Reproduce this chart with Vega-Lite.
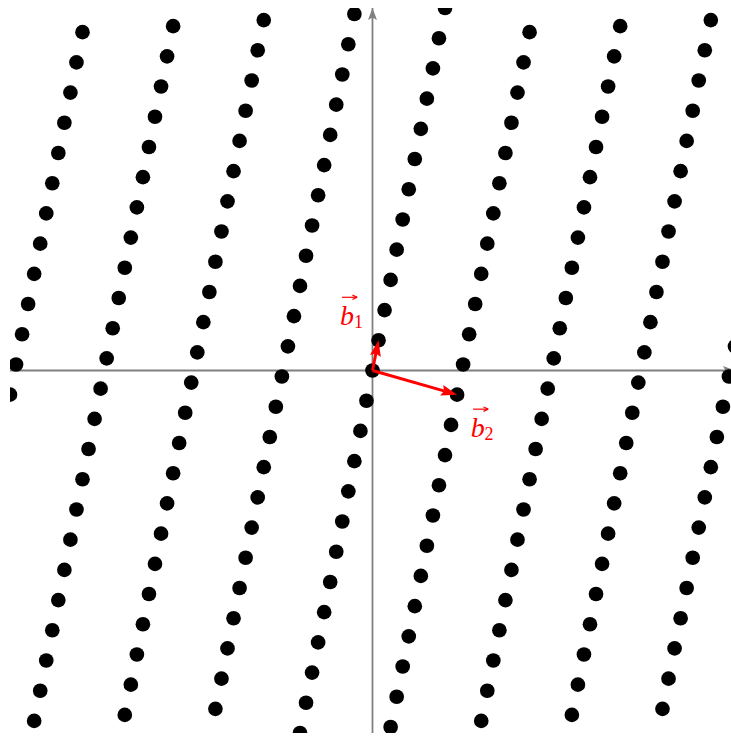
{
  "$schema": "https://vega.github.io/schema/vega-lite/v6.json",
  "width": 721,
  "height": 725,
  "autosize": "none",
  "padding": {"left": 10, "top": 8, "right": 0, "bottom": 3},
  "background": "white",
  "config": {"view": {"stroke": null}, "axis": {"disable": true}},
  "datasets": {
    "lattice": [
      {"x":-2.4,"y":-12},{"x":-2.2,"y":-11},{"x":-2,"y":-10},{"x":-1.8,"y":-9},{"x":-1.6,"y":-8},{"x":-1.4,"y":-7},{"x":-1.2,"y":-6},{"x":-1,"y":-5},{"x":-0.8,"y":-4},{"x":-0.6,"y":-3},{"x":-0.4,"y":-2},{"x":-0.2,"y":-1},{"x":0,"y":0},{"x":0.2,"y":1},{"x":0.4,"y":2},{"x":0.6,"y":3},{"x":0.8,"y":4},{"x":1,"y":5},{"x":1.2,"y":6},{"x":1.4,"y":7},{"x":1.6,"y":8},{"x":1.8,"y":9},{"x":2,"y":10},{"x":2.2,"y":11},{"x":2.4,"y":12},
      {"x":0.6,"y":-11.8},{"x":0.8,"y":-10.8},{"x":1,"y":-9.8},{"x":1.2,"y":-8.8},{"x":1.4,"y":-7.8},{"x":1.6,"y":-6.8},{"x":1.8,"y":-5.8},{"x":2,"y":-4.8},{"x":2.2,"y":-3.8},{"x":2.4,"y":-2.8},{"x":2.6,"y":-1.8},{"x":2.8,"y":-0.8},{"x":3,"y":0.2},{"x":3.2,"y":1.2},{"x":3.4,"y":2.2},{"x":3.6,"y":3.2},{"x":3.8,"y":4.2},{"x":4,"y":5.2},{"x":4.2,"y":6.2},{"x":4.4,"y":7.2},{"x":4.6,"y":8.2},{"x":4.8,"y":9.2},{"x":5,"y":10.2},{"x":5.2,"y":11.2},
      {"x":3.6,"y":-11.6},{"x":3.8,"y":-10.6},{"x":4,"y":-9.6},{"x":4.2,"y":-8.6},{"x":4.4,"y":-7.6},{"x":4.6,"y":-6.6},{"x":4.8,"y":-5.6},{"x":5,"y":-4.6},{"x":5.2,"y":-3.6},{"x":5.4,"y":-2.6},{"x":5.6,"y":-1.6},{"x":5.8,"y":-0.6},{"x":6,"y":0.4},{"x":6.2,"y":1.4},{"x":6.4,"y":2.4},{"x":6.6,"y":3.4},{"x":6.8,"y":4.4},{"x":7,"y":5.4},{"x":7.2,"y":6.4},{"x":7.4,"y":7.4},{"x":7.6,"y":8.4},{"x":7.8,"y":9.4},{"x":8,"y":10.4},{"x":8.2,"y":11.4},
      {"x":6.6,"y":-11.4},{"x":6.8,"y":-10.4},{"x":7,"y":-9.4},{"x":7.2,"y":-8.4},{"x":7.4,"y":-7.4},{"x":7.6,"y":-6.4},{"x":7.8,"y":-5.4},{"x":8,"y":-4.4},{"x":8.2,"y":-3.4},{"x":8.4,"y":-2.4},{"x":8.6,"y":-1.4},{"x":8.8,"y":-0.4},{"x":9,"y":0.6},{"x":9.2,"y":1.6},{"x":9.4,"y":2.6},{"x":9.6,"y":3.6},{"x":9.8,"y":4.6},{"x":10,"y":5.6},{"x":10.2,"y":6.6},{"x":10.4,"y":7.6},{"x":10.6,"y":8.6},{"x":10.8,"y":9.6},{"x":11,"y":10.6},{"x":11.2,"y":11.6},
      {"x":9.6,"y":-11.2},{"x":9.8,"y":-10.2},{"x":10,"y":-9.2},{"x":10.2,"y":-8.2},{"x":10.4,"y":-7.2},{"x":10.6,"y":-6.2},{"x":10.8,"y":-5.2},{"x":11,"y":-4.2},{"x":11.2,"y":-3.2},{"x":11.4,"y":-2.2},{"x":11.6,"y":-1.2},{"x":11.8,"y":-0.2},{"x":12,"y":0.8},
      {"x":-5.2,"y":-11.2},{"x":-5,"y":-10.2},{"x":-4.8,"y":-9.2},{"x":-4.6,"y":-8.2},{"x":-4.4,"y":-7.2},{"x":-4.2,"y":-6.2},{"x":-4,"y":-5.2},{"x":-3.8,"y":-4.2},{"x":-3.6,"y":-3.2},{"x":-3.4,"y":-2.2},{"x":-3.2,"y":-1.2},{"x":-3,"y":-0.2},{"x":-2.8,"y":0.8},{"x":-2.6,"y":1.8},{"x":-2.4,"y":2.8},{"x":-2.2,"y":3.8},{"x":-2,"y":4.8},{"x":-1.8,"y":5.8},{"x":-1.6,"y":6.8},{"x":-1.4,"y":7.8},{"x":-1.2,"y":8.8},{"x":-1,"y":9.8},{"x":-0.8,"y":10.8},{"x":-0.6,"y":11.8},
      {"x":-8.2,"y":-11.4},{"x":-8,"y":-10.4},{"x":-7.8,"y":-9.4},{"x":-7.6,"y":-8.4},{"x":-7.4,"y":-7.4},{"x":-7.2,"y":-6.4},{"x":-7,"y":-5.4},{"x":-6.8,"y":-4.4},{"x":-6.6,"y":-3.4},{"x":-6.4,"y":-2.4},{"x":-6.2,"y":-1.4},{"x":-6,"y":-0.4},{"x":-5.8,"y":0.6},{"x":-5.6,"y":1.6},{"x":-5.4,"y":2.6},{"x":-5.2,"y":3.6},{"x":-5,"y":4.6},{"x":-4.8,"y":5.6},{"x":-4.6,"y":6.6},{"x":-4.4,"y":7.6},{"x":-4.2,"y":8.6},{"x":-4,"y":9.6},{"x":-3.8,"y":10.6},{"x":-3.6,"y":11.6},
      {"x":-11.2,"y":-11.6},{"x":-11,"y":-10.6},{"x":-10.8,"y":-9.6},{"x":-10.6,"y":-8.6},{"x":-10.4,"y":-7.6},{"x":-10.2,"y":-6.6},{"x":-10,"y":-5.6},{"x":-9.8,"y":-4.6},{"x":-9.6,"y":-3.6},{"x":-9.4,"y":-2.6},{"x":-9.2,"y":-1.6},{"x":-9,"y":-0.6},{"x":-8.8,"y":0.4},{"x":-8.6,"y":1.4},{"x":-8.4,"y":2.4},{"x":-8.2,"y":3.4},{"x":-8,"y":4.4},{"x":-7.8,"y":5.4},{"x":-7.6,"y":6.4},{"x":-7.4,"y":7.4},{"x":-7.2,"y":8.4},{"x":-7,"y":9.4},{"x":-6.8,"y":10.4},{"x":-6.6,"y":11.4},
      {"x":-12,"y":-0.8},{"x":-11.8,"y":0.2},{"x":-11.6,"y":1.2},{"x":-11.4,"y":2.2},{"x":-11.2,"y":3.2},{"x":-11,"y":4.2},{"x":-10.8,"y":5.2},{"x":-10.6,"y":6.2},{"x":-10.4,"y":7.2},{"x":-10.2,"y":8.2},{"x":-10,"y":9.2},{"x":-9.8,"y":10.2},{"x":-9.6,"y":11.2}
    ],
    "axes": [
      {"axis":"x","x":-12,"y":0,"x2":12,"y2":0},
      {"axis":"y","x":0,"y":-12,"x2":0,"y2":12}
    ],
    "vectors": [
      {"v":"b1","x":0.2,"y":1,"sub":"1"},
      {"v":"b2","x":2.8,"y":-0.8,"sub":"2"}
    ]
  },
  "encoding": {
    "x": {"field":"x","type":"quantitative","scale":{"domain":[-12,11.868],"nice":false,"zero":false},"axis":null},
    "y": {"field":"y","type":"quantitative","scale":{"domain":[-12,12],"nice":false,"zero":false},"axis":null}
  },
  "layer": [
    {
      "data": {"name":"axes"},
      "mark": {"type":"rule","color":"#808080","strokeWidth":1.8},
      "encoding": {"x2":{"field":"x2"},"y2":{"field":"y2"}}
    },
    {
      "data": {"name":"axes"},
      "transform": [{"filter":"datum.axis === 'x'"}],
      "mark": {"type":"point","shape":"M0,0L0.45,1.2L0,0.95L-0.45,1.2Z","filled":true,"color":"#808080","opacity":1,"size":400,"angle":90},
      "encoding": {"x":{"field":"x2","type":"quantitative"},"y":{"field":"y2","type":"quantitative"}}
    },
    {
      "data": {"name":"axes"},
      "transform": [{"filter":"datum.axis === 'y'"}],
      "mark": {"type":"point","shape":"M0,0L0.45,1.2L0,0.95L-0.45,1.2Z","filled":true,"color":"#808080","opacity":1,"size":400,"angle":0},
      "encoding": {"x":{"field":"x2","type":"quantitative"},"y":{"field":"y2","type":"quantitative"}}
    },
    {
      "data": {"name":"lattice"},
      "mark": {"type":"circle","size":215,"color":"black","opacity":1,"clip":true}
    },
    {
      "data": {"name":"vectors"},
      "transform": [{"filter":"datum.v === 'b1'"}],
      "mark": {"type":"rule","color":"#ff0000","strokeWidth":3,"x2Offset":-2.3,"y2Offset":11.5},
      "encoding": {"x":{"datum":0,"type":"quantitative"},"y":{"datum":0,"type":"quantitative"},"x2":{"field":"x"},"y2":{"field":"y"}}
    },
    {
      "data": {"name":"vectors"},
      "transform": [{"filter":"datum.v === 'b2'"}],
      "mark": {"type":"rule","color":"#ff0000","strokeWidth":3,"x2Offset":-11.5,"y2Offset":-3.3},
      "encoding": {"x":{"datum":0,"type":"quantitative"},"y":{"datum":0,"type":"quantitative"},"x2":{"field":"x"},"y2":{"field":"y"}}
    },
    {
      "data": {"name":"vectors"},
      "transform": [{"filter":"datum.v === 'b1'"}],
      "mark": {"type":"point","shape":"M0,0L0.55,1.6L0,1.35L-0.55,1.6Z","filled":true,"color":"#ff0000","opacity":1,"size":400,"angle":11.31}
    },
    {
      "data": {"name":"vectors"},
      "transform": [{"filter":"datum.v === 'b2'"}],
      "mark": {"type":"point","shape":"M0,0L0.55,1.6L0,1.35L-0.55,1.6Z","filled":true,"color":"#ff0000","opacity":1,"size":400,"angle":105.95}
    },
    {
      "data": {"name":"vectors"},
      "transform": [{"filter":"datum.v === 'b1'"}],
      "mark": {"type":"text","text":"b","font":"Liberation Serif","fontStyle":"italic","fontSize":28,"color":"#ff0000","align":"center","baseline":"alphabetic","dx":-31.5,"dy":-15.3}
    },
    {
      "data": {"name":"vectors"},
      "transform": [{"filter":"datum.v === 'b1'"}],
      "mark": {"type":"text","font":"Liberation Serif","fontSize":18,"color":"#ff0000","align":"center","baseline":"alphabetic","dx":-20,"dy":-12.3},
      "encoding": {"text":{"field":"sub"}}
    },
    {
      "data": {"name":"vectors"},
      "transform": [{"filter":"datum.v === 'b1'"}],
      "mark": {"type":"rule","color":"#ff0000","strokeWidth":1.2,"xOffset":-36.5,"x2Offset":-21.5,"yOffset":-43,"y2Offset":-43},
      "encoding": {"x2":{"field":"x"},"y2":{"field":"y"}}
    },
    {
      "data": {"name":"vectors"},
      "transform": [{"filter":"datum.v === 'b1'"}],
      "mark": {"type":"point","shape":"M0,0L-0.55,1.2M0,0L0.55,1.2","filled":false,"color":"#ff0000","strokeWidth":1.2,"opacity":1,"size":64,"angle":90,"xOffset":-21.3,"yOffset":-43}
    },
    {
      "data": {"name":"vectors"},
      "transform": [{"filter":"datum.v === 'b2'"}],
      "mark": {"type":"text","text":"b","font":"Liberation Serif","fontStyle":"italic","fontSize":28,"color":"#ff0000","align":"center","baseline":"alphabetic","dx":20.7,"dy":42.3}
    },
    {
      "data": {"name":"vectors"},
      "transform": [{"filter":"datum.v === 'b2'"}],
      "mark": {"type":"text","font":"Liberation Serif","fontSize":18,"color":"#ff0000","align":"center","baseline":"alphabetic","dx":32,"dy":45.3},
      "encoding": {"text":{"field":"sub"}}
    },
    {
      "data": {"name":"vectors"},
      "transform": [{"filter":"datum.v === 'b2'"}],
      "mark": {"type":"rule","color":"#ff0000","strokeWidth":1.2,"xOffset":16,"x2Offset":31,"yOffset":14.5,"y2Offset":14.5},
      "encoding": {"x2":{"field":"x"},"y2":{"field":"y"}}
    },
    {
      "data": {"name":"vectors"},
      "transform": [{"filter":"datum.v === 'b2'"}],
      "mark": {"type":"point","shape":"M0,0L-0.55,1.2M0,0L0.55,1.2","filled":false,"color":"#ff0000","strokeWidth":1.2,"opacity":1,"size":64,"angle":90,"xOffset":31.2,"yOffset":14.5}
    }
  ]
}
